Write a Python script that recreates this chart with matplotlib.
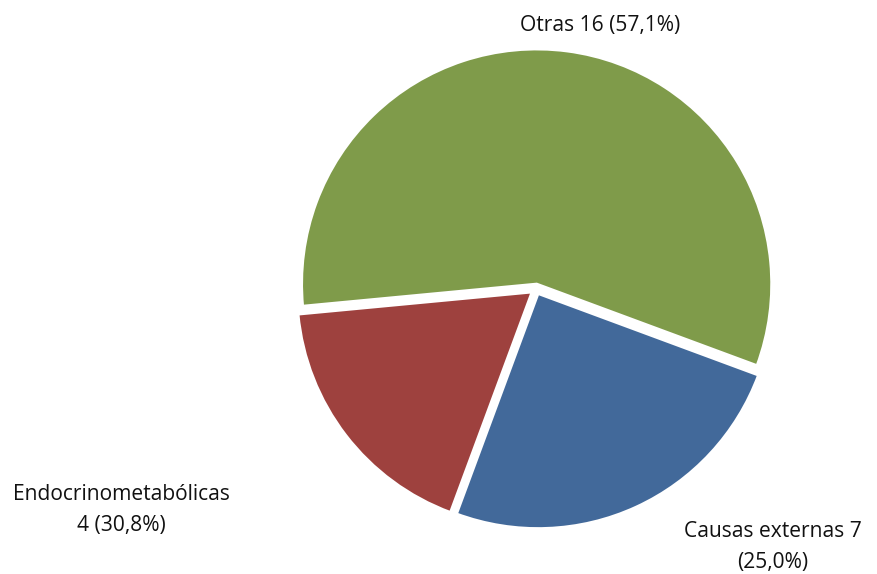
import matplotlib.pyplot as plt

plt.rcParams['font.family'] = ['Open Sans', 'DejaVu Sans']

# slices, clockwise starting at the left edge of "Otras"
categories = ["Otras", "Causas externas", "Endocrinometabólicas"]
values = [16, 7, 5]
labels = ["Otras 16 (57,1%)", "Causas externas 7\n(25,0%)", "Endocrinometabólicas\n4 (30,8%)"]
colors = ["#7F9B4A", "#42699A", "#9E413E"]

fig = plt.figure(figsize=(8.78, 5.74), dpi=100)
ax = fig.add_axes([0, 0, 1, 1])

ax.pie(values, colors=colors, startangle=185.4, counterclock=False,
       center=(536, 285), radius=235, explode=[5, 5, 5], normalize=True,
       wedgeprops=dict(edgecolor='white', linewidth=2), frame=True)
ax.set_xlim(0, 878)
ax.set_ylim(0, 574)
ax.set_aspect('equal')
ax.axis('off')

# label positions (pixel coords, y from bottom)
label_pos = [(600, 549), (773, 27), (121, 64)]
for lab, (x, y) in zip(labels, label_pos):
    ax.text(x, y, lab, ha='center', va='center', fontsize=15.1, color='#111111',
            linespacing=1.58)

plt.savefig("out.png", dpi=100)
plt.close()
